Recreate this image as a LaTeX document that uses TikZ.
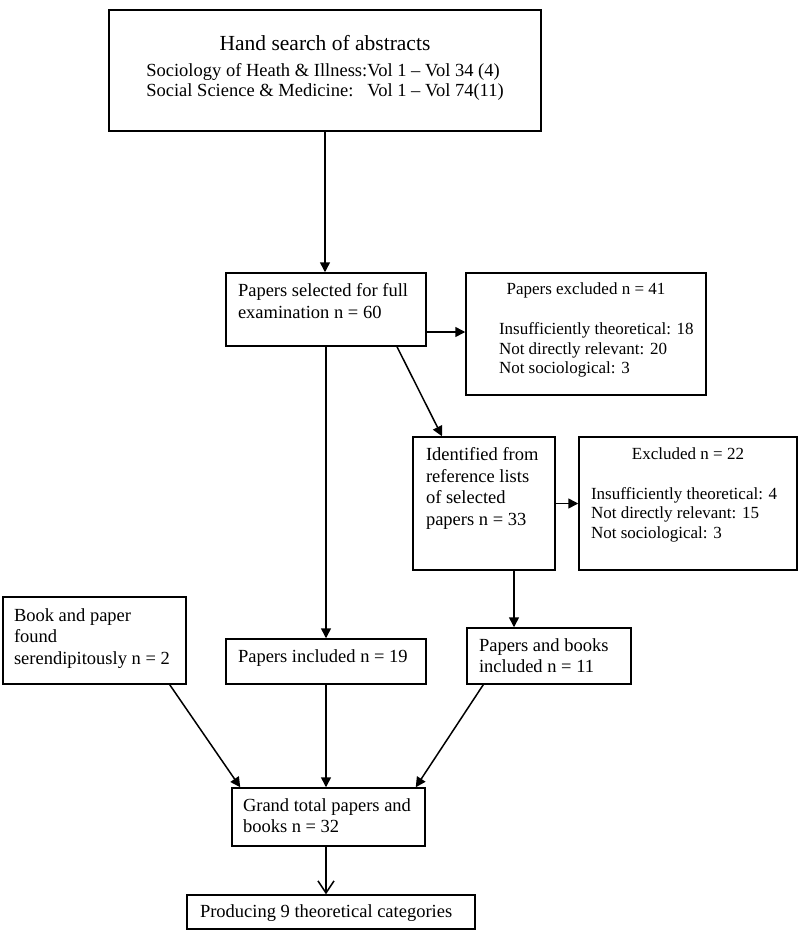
\documentclass[tikz,border=0pt]{standalone}
\usepackage{fontspec}
\setmainfont{Liberation Serif}
\usetikzlibrary{
  arrows.meta,
  calc,
}
\newcommand{\fsmain}{\fontsize{18.5}{21.5}\selectfont}
\newcommand{\fsexcl}{\fontsize{17}{19.5}\selectfont}
\newcommand{\fshead}{\fontsize{21.5}{26}\selectfont}
% width, height, left inset, top pad, text
\newcommand{\inbox}[5]{%
  \parbox[c][#2][t]{#1}{\raggedright\leftskip=#3\relax\vspace*{#4}#5}}
\tikzset{
  >={Triangle[length=10pt,width=10pt]},
  flowbox/.style={
    draw,
    line width=1.5pt,
    inner sep=0pt,
    font=\fsmain
  },
  flow/.style={
    ->,
    line width=1.5pt
  },
  openflow/.style={
    -{Straight Barb[length=12pt,width=16pt,line width=1.5pt]},
    line width=1.5pt
  }
}
\begin{document}
\begin{tikzpicture}[x=1pt,y=-1pt]
\useasboundingbox (0,0) rectangle (800,932);

\node[flowbox] (search) at (325,70.5) {\inbox{432pt}{121pt}{0pt}{25pt}{%
  {\centering\fshead Hand search of abstracts\par}\vspace{6pt}%
  {\centering\fontsize{18.5}{20}\selectfont
   \begin{tabular}[t]{@{}l@{}l@{}}
   Sociology of Heath \& Illness:&Vol 1 -- Vol 34 (4)\\
   Social Science \& Medicine:&Vol 1 -- Vol 74(11)
   \end{tabular}\par}}};
\node[flowbox] (selected) at (326,309.5)
  {\inbox{200pt}{73pt}{12pt}{10.6pt}{Papers selected for full\\examination n = 60}};
\node[flowbox,font=\fsexcl] (excl1) at (586,334)
  {\inbox{240pt}{122pt}{33pt}{9.8pt}{{\centering Papers excluded n = 41\par}\vspace{20.5pt}%
   Insufficiently theoretical: 18\\Not directly relevant: 20\\Not sociological: 3}};
\node[flowbox] (ident) at (484,503.5)
  {\inbox{142pt}{133pt}{13pt}{10.6pt}{Identified from\\reference lists\\of selected\\papers n = 33}};
\node[flowbox,font=\fsexcl] (excl2) at (688,503.5)
  {\inbox{218pt}{133pt}{12pt}{10.3pt}{{\centering Excluded n = 22\par}\vspace{20.5pt}%
   Insufficiently theoretical: 4\\Not directly relevant: 15\\Not sociological: 3}};
\node[flowbox] (found) at (94.5,640.5)
  {\inbox{183pt}{87pt}{11pt}{11.6pt}{Book and paper\\found\\serendipitously n = 2}};
\node[flowbox] (incl1) at (326,661.5)
  {\inbox{200pt}{45pt}{12pt}{10.6pt}{Papers included n = 19}};
\node[flowbox] (incl2) at (549,656)
  {\inbox{164pt}{56pt}{12pt}{10.6pt}{Papers and books\\included n = 11}};
\node[flowbox] (total) at (328.5,817)
  {\inbox{193pt}{58pt}{11pt}{10.6pt}{Grand total papers and\\books n = 32}};
\node[flowbox] (result) at (331,912)
  {\inbox{288pt}{34pt}{13pt}{9.6pt}{Producing 9 theoretical categories}};

\draw[flow] (search.south) -- (search.south |- selected.north);
\draw[flow] ([yshift=-22.5pt]selected.east) -- ([yshift=-22.5pt]selected.east -| excl1.west);
\draw[flow] ([xshift=71pt]selected.south) -- ([xshift=-42pt]ident.north);
\draw[flow] (selected.south -| incl1.north) -- (incl1.north);
\draw[flow] (ident) -- (excl2);
\draw[flow] ([xshift=30pt]ident.south) -- ([xshift=30pt]ident.south |- incl2.north);
\draw[flow] ([xshift=-17pt]found.south east) -- ([xshift=9pt]total.north west);
\draw[flow] (incl1.south) -- (incl1.south |- total.north);
\draw[flow] ([xshift=17pt]incl2.south west) -- ([xshift=-10pt]total.north east);
\draw[openflow] (incl1.south |- total.south) -- (incl1.south |- result.north);
\end{tikzpicture}
\end{document}
